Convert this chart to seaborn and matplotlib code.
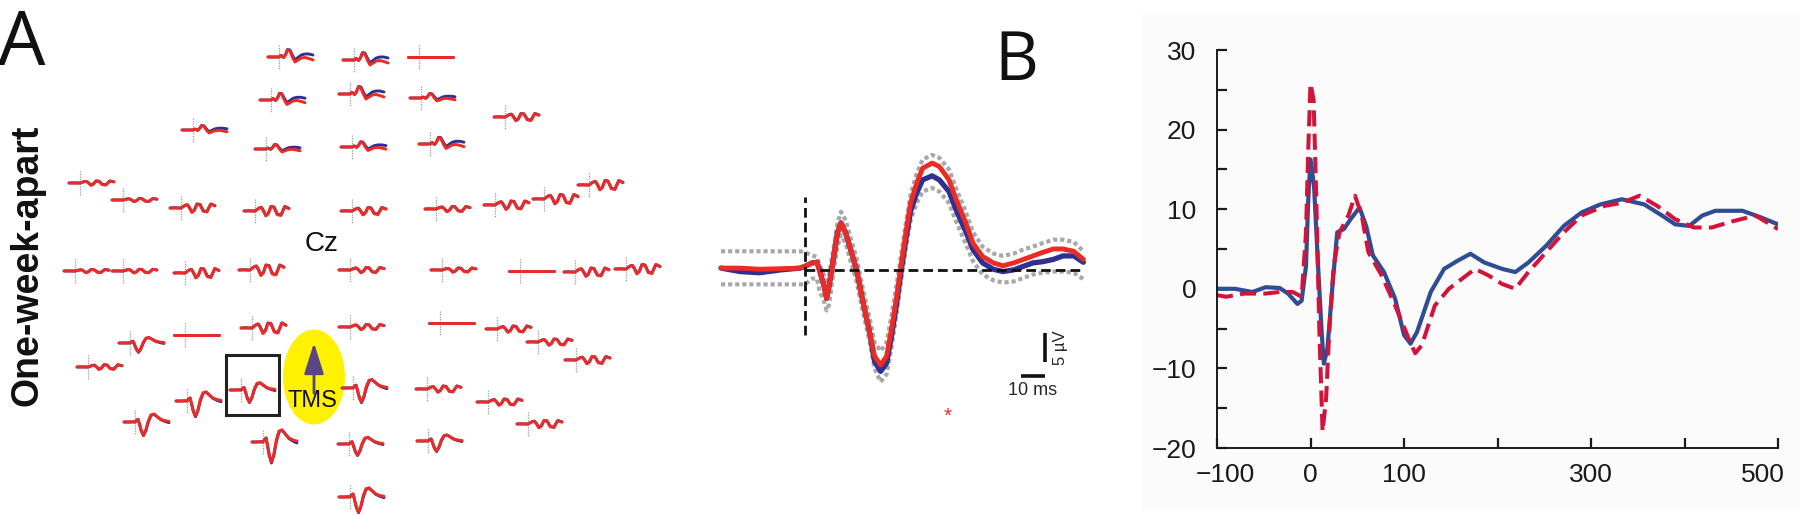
import pandas as pd
import matplotlib
matplotlib.use("Agg")
import matplotlib.pyplot as plt
import matplotlib.transforms as mtransforms
import seaborn as sns
from matplotlib.patches import Ellipse, Rectangle

# ---------------- data ----------------
# Panel A: mini TEP templates (time in ms, amplitude in px at gain 1)
mini_t = [-35, -20, -5, 0, 4, 8, 12, 17, 23, 30, 38, 46, 55, 65, 76, 88, 101, 115]
tpl_red = {
    "F": [0, 0, 0, 0, 0.5, 1.5, 1.0, -0.5, 2, 7, 6, 0, -5, -3, -1, -0.5, -1.5, -3],
    "C": [0, 0, 0, 0, 0.5, 1.5, 2.5, 3.5, 4, 0, -5.5, -3, 5, 4, -4, -5, 5, 2.5],
    "P": [0, 0, 0, 0, 1, 3, 4, -4, -14, -20, -12, 2, 11, 12, 8, 4, 2, 1],
    "flat": [0] * 18,
}
tpl_blue = {
    "F": [0, 0, 0, 0, 0.5, 1.5, 1.0, -0.5, 2, 7.5, 7, 2, -3, -0.5, 2, 3, 3, 2],
    "C": [0, 0.3, 0, 0, 0.5, 1.5, 2.5, 3.5, 4, 0.5, -5, -2.5, 5, 4.5, -3.5, -4.5, 5, 3],
    "P": [0, 0, 0.3, 0, 1, 3, 4, -4, -14, -21, -13, 0, 10, 12, 8, 3.5, 1, -1],
    "flat": [0] * 18,
}

# electrode layout on the head map (trace start x, baseline y)
elec_x = [268, 343, 408, 260, 339, 410, 182, 494, 255, 341, 419,
          69, 112, 170, 244, 341, 425, 484, 533, 578,
          64, 112, 174, 239, 339, 431, 509, 564, 615,
          119, 174, 241, 339, 429, 486, 527, 565, 77,
          230, 342, 416, 176, 477, 517, 124, 252, 338, 417, 339]
elec_y = [57, 60, 57, 100, 94, 98, 130, 117, 149, 147, 144,
          183, 200, 208, 211, 211, 209, 205, 199, 185,
          271, 271, 273, 270, 270, 270, 271, 272, 269,
          343, 335, 328, 327, 323, 329, 342, 360, 367,
          390, 388, 389, 401, 402, 424, 422, 442, 444, 441, 497]
elec_tpl = ["F", "F", "flat", "F", "F", "F", "F", "C", "F", "F", "F",
            "C", "C", "C", "C", "C", "C", "C", "C", "C",
            "C", "C", "C", "C", "C", "C", "flat", "C", "C",
            "P", "flat", "C", "C", "flat", "C", "C", "C", "C",
            "P", "P", "C", "P", "C", "C", "P", "P", "P", "P", "P"]
elec_gain = [1.0, 1.0, 0, 0.9, 1.0, 0.6, 0.6, 0.7, 0.6, 0.7, 0.9,
             0.4, 0.3, 0.8, 0.9, 0.7, 0.5, 0.8, 0.9, 0.9,
             0.3, 0.35, 0.9, 1.0, 0.5, 0.4, 0, 0.8, 0.9,
             0.45, 0, 1.0, 0.5, 0, 0.6, 0.6, 0.7, 0.45,
             0.6, 0.7, 0.6, 0.75, 0.6, 0.7, 0.65, 1.0, 0.55, 0.5, 0.75]

# Enlarged trace (ms, µV)
zoom_t = [-35, -27, -19, -10, -2, 0, 3, 5, 6, 8, 9, 10, 12, 13.5, 15, 17, 19, 21.5,
          24, 27, 29, 31.5, 34, 36, 38, 40, 42, 44, 46.5, 49, 53, 56, 60, 63, 67,
          70, 74, 78.5, 82.5, 87, 91, 95, 99, 103.5, 107.5, 112, 116]
zoom_red = [0.3, 0.3, 0.1, 0.2, 0.3, 0.6, 1.2, 1.3, 0.0, -2.9, -4.9, -2.9, 2.3, 6.3,
            8.1, 6.3, 3.5, 0.0, -5.2, -10.9, -14.9, -16.4, -14.9, -10.3, -5.2, 0.6,
            6.3, 11.5, 14.9, 17.5, 18.4, 17.8, 15.5, 12.1, 8.1, 4.6, 2.3, 1.2, 0.7,
            1.2, 1.8, 2.4, 3.0, 3.6, 3.6, 3.2, 1.8]
zoom_blue = [0.3, -0.3, -0.5, 0.0, 0.3, 0.6, 1.2, 1.3, 0.0, -2.9, -4.9, -2.9, 2.3, 6.3,
             8.1, 6.3, 3.5, 0.0, -5.2, -10.9, -15.8, -17.5, -16.1, -11.5, -6.3, -0.4,
             5.2, 10.1, 13.2, 15.5, 16.2, 15.5, 13.5, 10.3, 6.6, 3.5, 1.2, 0.1, -0.3,
             0.0, 0.6, 1.2, 1.4, 1.8, 2.4, 2.4, 1.3]
zoom_upper = [3.2, 3.2, 3.2, 3.2, 3.2, 3.0, 2.5, 2.2, 1.0, -1.0, -2.5, -1.0, 4.0, 8.0,
              10.0, 8.5, 5.5, 2.0, -3.0, -8.5, -12.5, -14.0, -12.5, -8.0, -3.0, 2.5,
              8.0, 13.0, 16.5, 19.0, 19.8, 19.3, 17.3, 14.0, 10.0, 6.5, 4.0, 2.8, 2.4,
              2.8, 3.5, 4.0, 4.6, 5.2, 5.2, 4.8, 3.2]
zoom_lower = [-2.5, -2.5, -2.5, -2.5, -2.5, -2.5, -1.5, -1.5, -3.5, -5.5, -7.0, -6.0,
              0.0, 4.0, 6.0, 4.5, 1.5, -2.0, -7.0, -12.5, -17.0, -19.3, -18.0, -13.5,
              -8.0, -2.0, 3.5, 8.5, 11.5, 13.5, 14.1, 13.5, 11.5, 8.3, 4.5, 1.5, -0.8,
              -1.8, -2.2, -2.0, -1.4, -0.8, -0.5, -0.3, -0.3, -0.5, -1.6]

# Panel B (ms, µV)
b_blue_t = [-100, -81, -62, -48, -33, -24, -14, -9.5, -4.8, -2.4, 0, 3.8, 8.1, 11.9,
            14.3, 18.1, 23.8, 28.6, 35.7, 42.9, 52.4, 59.5, 66.7, 78.6, 90.5, 100,
            107, 114, 128.6, 142.9, 157, 171, 186, 205, 219, 233, 252, 271, 290,
            310, 333, 357, 376, 390, 405, 419, 433, 462, 481, 500]
b_blue_v = [0, 0, -0.4, 0.2, 0.1, -0.6, -1.9, -1.5, 2.9, 11.25, 16.25, 12.9, 2.9,
            -5.4, -9.4, -7.5, 0.8, 7.1, 7.5, 8.75, 10.2, 7.9, 4.2, 2.1, -1.25, -5.8,
            -6.9, -5.4, -0.4, 2.5, 3.5, 4.4, 3.3, 2.5, 2.1, 3.3, 5.4, 7.9, 9.6, 10.6,
            11.25, 10.6, 9.2, 8.1, 7.9, 9.2, 9.8, 9.8, 9.0, 8.1]
b_red_t = [-100, -90, -71, -48, -33, -19, -9.5, -4.8, -2.4, 0, 3.3, 6.2, 9.5, 12.9,
           16.7, 20, 24.8, 31, 40.5, 47.6, 54.8, 61.9, 76, 90.5, 105, 112, 119, 133,
           148, 162, 176, 190, 205, 219, 233, 252, 271, 290, 314, 333, 352, 371, 390,
           410, 429, 452, 476, 500]
b_red_v = [-0.8, -1.0, -0.6, -0.6, -0.4, -0.4, -1.0, 7.1, 17.5, 25.8, 23.75, 11.25,
           -5.4, -17.9, -13.75, -5.4, 2.9, 7.1, 9.2, 11.7, 9.2, 4.6, 1.7, -2.1, -6.25,
           -8.1, -7.1, -2.1, 0.0, 1.25, 2.5, 1.7, 0.6, 0.0, 2.1, 4.6, 7.1, 9.2, 10.4,
           10.8, 11.7, 10.4, 8.75, 7.7, 7.7, 8.5, 9.2, 7.5]
b_xticks = [-100, 0, 100, 200, 300, 400, 500]
b_xticklabels = ["\u2212100", "0", "100", "", "300", "", "500"]
b_yticks = [-20, -10, 0, 10, 20, 30]
b_yticklabels = ["\u221220", "\u221210", "0", "10", "20", "30"]
b_yminor = [-15, -5, 5, 15, 25]

RED = "#ee2a24"
BLUE = "#2e3192"

# ---------------- figure ----------------
sns.set_style("white")
plt.rcParams["font.family"] = ["Liberation Sans", "DejaVu Sans"]

W, H = 1800, 515
fig = plt.figure(figsize=(W / 100, H / 100), dpi=100)

# full-figure layer in pixel units for the head map and labels
ax0 = fig.add_axes([0, 0, 1, 1], zorder=0)

ax0.add_patch(Rectangle((1142, 13), 658, 497, fc="#fcfbfc", ec="none", zorder=0))

rows = []
for i, (ex, ey, tp, g) in enumerate(zip(elec_x, elec_y, elec_tpl, elec_gain)):
    for sess, tpl in (("week1", tpl_blue), ("week2", tpl_red)):
        for t, v in zip(mini_t, tpl[tp]):
            rows.append((i, sess, ex + (t - mini_t[0]) * 0.3, ey - g * v))
topo = pd.DataFrame(rows, columns=["elec", "session", "x", "y"])

stim_x = [ex - mini_t[0] * 0.3 for ex in elec_x]
ax0.vlines(stim_x, [ey - 12 for ey in elec_y], [ey + 12 for ey in elec_y],
           colors="#9a9a9a", linestyles=(0, (1, 1)), lw=0.9, zorder=1)
sns.lineplot(data=topo, x="x", y="y", hue="session", units="elec", estimator=None,
             sort=False, hue_order=["week1", "week2"],
             palette={"week1": BLUE, "week2": RED}, lw=2.1, legend=False, ax=ax0,
             zorder=2)
ax0.set_xlim(0, W)
ax0.set_ylim(H, 0)
ax0.axis("off")

ax0.add_patch(Rectangle((226, 355), 53, 60, fill=False, ec="#222222", lw=2.2, zorder=3))
ax0.add_patch(Ellipse((314, 377), 62, 95, fc="#fff200", ec="none", zorder=1))
ax0.annotate("", xy=(314, 340), xytext=(314, 396),
             arrowprops=dict(arrowstyle="-|>,head_width=0.6,head_length=1.9",
                             fc="#5a4585", ec="#5a4585", lw=2), zorder=4)
ax0.text(312, 401, "TMS", ha="center", va="center", fontsize=17, color="#111111")
ax0.text(322, 244, "Cz", ha="center", va="center", fontsize=20, color="#111111")
ax0.text(28, 265, "One-week-apart", rotation=90, ha="center", va="center",
         fontsize=27, fontweight="bold", color="#111111")
ax0.text(-2, 65, "A", fontsize=54, va="baseline", ha="left",
         family=["Open Sans", "DejaVu Sans"], color="#111111")
ax0.text(994, 80, "B", fontsize=49, va="baseline", ha="left",
         family=["Open Sans", "DejaVu Sans"], color="#111111")

# ---- enlarged trace ----
axm = fig.add_axes([700 / W, 1 - 430 / H, 410 / W, 300 / H], zorder=1)
axm.set_facecolor("none")
grey_ls = (0, (1, 0.7))
sns.lineplot(x=zoom_t, y=zoom_upper, color="#a8a8a8", lw=3, linestyle=grey_ls,
             sort=False, estimator=None, ax=axm)
sns.lineplot(x=zoom_t, y=zoom_lower, color="#a8a8a8", lw=3, linestyle=grey_ls,
             sort=False, estimator=None, ax=axm)
sns.lineplot(x=zoom_t, y=zoom_blue, color=BLUE, lw=3.8, sort=False,
             estimator=None, ax=axm)
sns.lineplot(x=zoom_t, y=zoom_red, color=RED, lw=3.5, sort=False,
             estimator=None, ax=axm)
axm.plot([0, 0], [-11.2, 12.6], color="#111111", lw=2, linestyle=(0, (3.5, 1.8)))
axm.plot([0, zoom_t[-1]], [0, 0], color="#111111", lw=2, linestyle=(0, (3.5, 1.8)))
axm.plot([100, 100], [-10.9, -15.9], color="#111111", lw=2.6, solid_capstyle="butt")
axm.plot([90, 100], [-18.3, -18.3], color="#111111", lw=2.6, solid_capstyle="butt")
axm.text(106.5, -13.4, "5 \u00b5V", rotation=90, ha="center", va="center", fontsize=12)
axm.text(95, -20.8, "10 ms", ha="center", va="center", fontsize=13)
axm.text(59.6, -25.2, "*", ha="center", va="center", fontsize=15, color=RED)
axm.set_xlim(-43.75, 127.1)
axm.set_ylim(-27.6, 24.1)
axm.axis("off")

# ---- panel B ----
axb = fig.add_axes([1217 / W, 1 - 448 / H, 561 / W, 398 / H], zorder=1)
axb.set_facecolor("none")
sns.lineplot(x=b_blue_t, y=b_blue_v, color="#2f4d96", lw=3.0, sort=False,
             estimator=None, ax=axb)
sns.lineplot(x=b_red_t, y=b_red_v, color="#d2143a", lw=2.9, linestyle=(0, (4, 1.8)),
             sort=False, estimator=None, ax=axb)
axb.set_xlim(-100, 500)
axb.set_ylim(-20, 30)
axb.set_xticks(b_xticks)
axb.set_xticklabels(b_xticklabels)
axb.set_yticks(b_yticks)
axb.set_yticklabels(b_yticklabels)
axb.set_yticks(b_yminor, minor=True)
for side in ("top", "right"):
    axb.spines[side].set_visible(False)
for side in ("left", "bottom"):
    axb.spines[side].set_linewidth(1.4)
    axb.spines[side].set_color("#1a1a1a")
axb.tick_params(axis="both", which="both", direction="in", length=7, width=1.6,
                color="#1a1a1a", labelsize=19, labelcolor="#1a1a1a")
axb.tick_params(axis="y", which="both", pad=15, left=True)
axb.tick_params(axis="x", pad=11, bottom=True)
axb.set_xlabel("")
axb.set_ylabel("")
# end labels sit slightly inside the axis in the original
shift = {0: 8, len(b_xticks) - 1: -15}
for idx, lab in enumerate(axb.get_xticklabels()):
    if idx in shift:
        lab.set_transform(lab.get_transform() + mtransforms.ScaledTranslation(
            shift[idx] / 100, 0, fig.dpi_scale_trans))

fig.savefig("out.png", dpi=100)
